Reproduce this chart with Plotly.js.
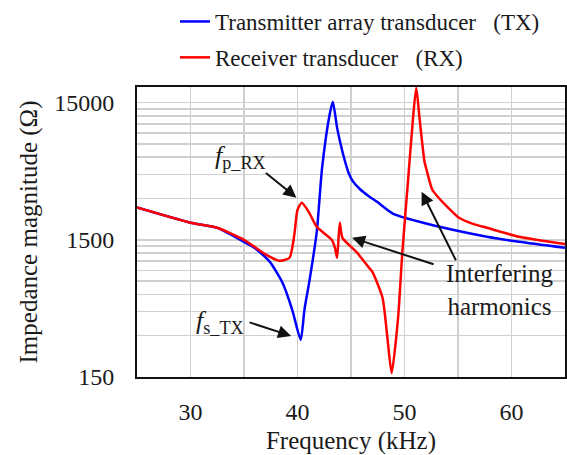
<!DOCTYPE html>
<html>
<head>
<meta charset="utf-8">
<script src="https://cdn.plot.ly/plotly-3.0.1.min.js"></script>
<style>html,body{margin:0;padding:0;background:#fff;}#chart{width:567px;height:455px;}</style>
</head>
<body>
<div id="chart"></div>
<script>
// Transmitter array transducer (TX)
var txFreq = [25, 30, 32.5, 35, 36, 37.4, 38.6, 39.5, 40.3, 40.65, 41.1, 41.8, 42.3, 43.0, 43.3, 43.7, 44.0, 44.4, 44.77, 45.14, 45.8, 46.73, 47.4, 48.9, 51.4, 54.5, 57.7, 60.7, 65];
var txImp  = [2580, 2000, 1835, 1450, 1310, 1040, 730, 465, 280, 465, 740, 1715, 5030, 12250, 15250, 9860, 7660, 5750, 4625, 4045, 3535, 3090, 2850, 2330, 2030, 1775, 1580, 1450, 1310];
// Receiver transducer (RX)
var rxFreq = [25, 30, 32.5, 35, 36, 37.1, 38.3, 39.25, 39.7, 40.0, 40.4, 41.1, 41.8, 43.2, 43.5, 43.7, 43.95, 44.2, 45.5, 46.7, 47.0, 47.95, 48.4, 48.8, 49.4, 49.8, 50.3, 50.8, 51.1, 51.4, 51.87, 52.06, 52.6, 53.27, 54.0, 55.1, 56.4, 57.7, 60.7, 65];
var rxImp  = [2580, 2000, 1835, 1500, 1330, 1165, 1055, 1110, 1630, 2480, 2790, 2360, 1865, 1500, 1310, 1110, 1995, 1550, 1225, 935, 875, 565, 290, 160, 405, 1225, 3780, 11660, 19300, 11660, 5560, 4865, 3475, 2990, 2610, 2170, 1960, 1835, 1580, 1400];

var xTickVals = [30, 40, 50, 60];
var xTickText = ['30', '40', '50', '60'];
var yTickVals = [150, 1500, 15000];
var yTickText = ['150', '1500', '15000'];
var yMinorVals = [300, 450, 600, 750, 900, 1050, 1200, 1350, 3000, 4500, 6000, 7500, 9000, 10500, 12000, 13500];
var xRange = [25, 65];
var yRange = [150, 19500];

var FONT = 'Liberation Serif';
var TXT = '#1a1a1a';
var NB = '\u00a0';

var traces = [
  {x: txFreq, y: txImp, type: 'scatter', mode: 'lines', name: 'Transmitter array transducer' + NB + NB + NB + '(TX)',
   line: {color: '#0000ff', width: 2.5, shape: 'spline', smoothing: 0.6}, legendgroup: 'a'},
  {x: rxFreq, y: rxImp, type: 'scatter', mode: 'lines', name: 'Receiver transducer' + NB + NB + NB + '(RX)',
   line: {color: '#ff0000', width: 2.5, shape: 'spline', smoothing: 0.6}, legendgroup: 'b'}
];

function L(v){ return Math.log10(v); }
function px2x(p){ return (p - 137) / 428; }
function py2y(p){ return (377 - p) / 290; }
var arrowBase = {showarrow: true, arrowhead: 2, arrowsize: 1.3, arrowwidth: 2, arrowcolor: '#111', text: '', xref: 'x', yref: 'y'};
var textBase = {xref: 'paper', yref: 'paper', showarrow: false, xanchor: 'center', yanchor: 'middle'};

var annotations = [
  Object.assign({}, arrowBase, {x: 39.9, y: L(3040), ax: -32, ay: -26}),
  Object.assign({}, arrowBase, {x: 39.4, y: L(299), ax: -43, ay: -14}),
  Object.assign({}, arrowBase, {x: 45.1, y: L(1552), ax: 83, ay: 27}),
  Object.assign({}, arrowBase, {x: 51.6, y: L(3360), ax: 35, ay: 70}),
  Object.assign({}, textBase, {x: px2x(240), y: py2y(157),
   text: '<i>f</i><sub>p_RX</sub>', font: {family: FONT, size: 26, color: TXT}}),
  Object.assign({}, textBase, {x: px2x(220), y: py2y(322),
   text: '<i>f</i><sub>s_TX</sub>', font: {family: FONT, size: 26, color: TXT}}),
  Object.assign({}, textBase, {x: px2x(499), y: py2y(290),
   text: 'Interfering<br>harmonics', align: 'center', font: {family: FONT, size: 25, color: TXT}})
];

var layout = {
  width: 567, height: 455,
  margin: {l: 137, r: 2, t: 87, b: 78},
  paper_bgcolor: '#fff', plot_bgcolor: '#fff',
  font: {family: FONT, size: 24, color: TXT},
  showlegend: true,
  legend: {x: px2x(175), xanchor: 'left', y: 1.025, yref: 'container', yanchor: 'top',
           bgcolor: 'rgba(0,0,0,0)', font: {family: FONT, size: 23, color: TXT},
           traceorder: 'grouped', tracegroupgap: 3},
  xaxis: {range: xRange, tickvals: xTickVals, ticktext: xTickText, showgrid: true,
          gridcolor: '#d0d0d0', gridwidth: 1.5,
          minor: {dtick: 5, tick0: 25, showgrid: true, gridcolor: '#d0d0d0', gridwidth: 1.5},
          showline: true, linecolor: '#111', linewidth: 2, mirror: true,
          ticks: 'outside', ticklen: 12, tickcolor: 'rgba(0,0,0,0)', zeroline: false,
          tickfont: {family: FONT, size: 24, color: TXT},
          title: {text: 'Frequency (kHz)', font: {family: FONT, size: 25, color: TXT}, standoff: 11}},
  yaxis: {type: 'log', range: [Math.log10(yRange[0]), Math.log10(yRange[1])],
          tickvals: yTickVals, ticktext: yTickText, showgrid: true,
          gridcolor: '#d0d0d0', gridwidth: 1.5,
          minor: {tickmode: 'array', tickvals: yMinorVals, showgrid: true, gridcolor: '#d0d0d0', gridwidth: 1.5},
          showline: true, linecolor: '#111', linewidth: 2, mirror: true,
          ticks: 'outside', ticklen: 16, tickcolor: 'rgba(0,0,0,0)', zeroline: false,
          tickfont: {family: FONT, size: 24, color: TXT},
          title: {text: 'Impedance magnitude (Ω)', font: {family: FONT, size: 25, color: TXT}, standoff: 9}},
  annotations: annotations
};

Plotly.newPlot('chart', traces, layout, {displayModeBar: false, staticPlot: true});
</script>
</body>
</html>
